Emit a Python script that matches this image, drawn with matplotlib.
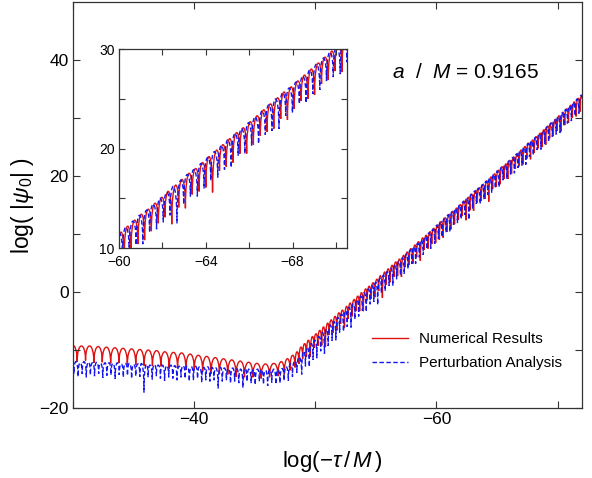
import matplotlib
matplotlib.use("Agg")
import matplotlib.pyplot as plt
from matplotlib.path import Path
from matplotlib.patches import PathPatch
from matplotlib.lines import Line2D

plt.rcParams['font.family'] = 'Liberation Sans'
plt.rcParams['mathtext.fontset'] = 'custom'
plt.rcParams['mathtext.rm'] = 'Liberation Sans'
plt.rcParams['mathtext.it'] = 'Liberation Sans:italic'

# ---- data ----
# each curve = chain of arches: cusp positions, arch tops between cusps,
# and how far the spike at each cusp drops below the lower neighbouring arch

red_cusp_x = [
    -29.67, -30.36, -31.05, -31.74, -32.43, -33.12, -33.81, -34.50, -35.19, -35.88,
    -36.57, -37.26, -37.95, -38.64, -39.33, -40.02, -40.71, -41.40, -42.09, -42.78,
    -43.47, -44.16, -44.85, -45.54, -46.23, -46.92,
    -47.45, -47.92, -48.33,
    -48.65, -48.96, -49.27, -49.59, -49.90, -50.21, -50.53, -50.84, -51.15, -51.47,
    -51.78, -52.09, -52.41, -52.72, -53.03, -53.35, -53.66, -53.97, -54.29, -54.60,
    -54.91, -55.23, -55.54, -55.85, -56.17, -56.48, -56.79, -57.11, -57.42, -57.73,
    -58.05, -58.36, -58.67, -58.99, -59.30, -59.61, -59.93, -60.24, -60.55, -60.87,
    -61.18, -61.49, -61.81, -62.12, -62.43, -62.75, -63.06, -63.37, -63.69, -64.00,
    -64.31, -64.63, -64.94, -65.25, -65.57, -65.88, -66.19, -66.51, -66.82, -67.13,
    -67.45, -67.76, -68.07, -68.39, -68.70, -69.01, -69.33, -69.64, -69.95, -70.27,
    -70.58, -70.89, -71.21, -71.52, -71.83, -72.15,
]
red_top = [
    -9.2, -9.3, -9.3, -9.4, -9.5, -9.6, -9.7, -9.8, -9.9, -10.0,
    -10.1, -10.3, -10.4, -10.5, -10.7, -10.9, -11.1, -11.3, -11.5, -11.7,
    -11.9, -12.1, -12.3, -12.4, -12.3,
    -12.0, -11.5, -10.9, -10.3,
    -9.5, -8.9, -8.3, -7.7, -7.2, -6.6, -6.0, -5.4, -4.8, -4.2,
    -3.6, -3.1, -2.5, -1.9, -1.3, -0.7, -0.1, 0.5, 1.0, 1.6,
    2.2, 2.8, 3.4, 4.0, 4.6, 5.2, 5.7, 6.3, 6.9, 7.5,
    8.1, 8.7, 9.3, 9.8, 10.4, 11.0, 11.6, 12.2, 12.8, 13.4,
    13.9, 14.5, 15.1, 15.7, 16.3, 16.9, 17.5, 18.0, 18.6, 19.2,
    19.8, 20.4, 21.0, 21.6, 22.1, 22.7, 23.3, 23.9, 24.5, 25.1,
    25.7, 26.2, 26.8, 27.4, 28.0, 28.6, 29.2, 29.8, 30.4, 31.0,
    31.6, 32.2, 32.8, 33.4, 34.0,
]
red_dip_depth = [
    2.6, 2.7, 2.5, 2.8, 2.6, 2.7, 2.5, 2.8, 2.6, 2.7,
    2.6, 2.5, 2.8, 2.6, 2.7, 2.5, 2.6, 2.8, 2.6, 2.5,
    2.7, 2.6, 2.4, 2.5, 2.3, 2.2,
    2.2, 2.0, 2.1,
    2.1, 2.0, 2.3, 2.9, 1.9, 2.1, 2.6, 3.4, 2.0, 2.2,
    2.4, 1.9, 3.0, 2.1, 2.3, 2.0, 2.6, 3.2, 1.9, 2.2,
    2.5, 2.0, 3.8, 2.1, 2.3, 2.0, 2.4, 3.1, 2.0, 2.2,
    2.6, 2.1, 3.3, 2.0, 2.3, 2.1, 2.5, 2.6, 2.8, 2.4,
    2.6, 2.2, 2.0, 2.0, 3.3, 2.2, 2.9, 2.1, 2.3, 2.5,
    3.6, 2.0, 2.2, 2.4, 2.1, 2.6, 2.3, 2.0, 2.2, 2.5,
    2.1, 2.8, 2.2, 2.0, 2.4, 2.6, 2.1, 2.3, 2.0, 2.7,
    2.2, 2.4, 2.1, 2.5, 2.3, 2.4,
]

blue_cusp_x = [
    -29.75, -30.09, -30.43, -30.77, -31.11, -31.45, -31.79, -32.13, -32.47, -32.81,
    -33.15, -33.49, -33.83, -34.17, -34.51, -34.85, -35.19, -35.53, -35.87, -36.21,
    -36.55, -36.89, -37.23, -37.57, -37.91, -38.25, -38.59, -38.93, -39.27, -39.61,
    -39.95, -40.29, -40.63, -40.97, -41.31, -41.65, -41.99, -42.33, -42.67, -43.01,
    -43.35, -43.69, -44.03, -44.37, -44.71, -45.05, -45.39, -45.73, -46.07, -46.41,
    -46.75, -47.09, -47.43, -47.78, -48.12, -48.48,
    -48.88, -49.19, -49.51, -49.82, -50.13, -50.45, -50.76, -51.07, -51.39, -51.70,
    -52.01, -52.33, -52.64, -52.95, -53.27, -53.58, -53.89, -54.21, -54.52, -54.83,
    -55.15, -55.46, -55.77, -56.09, -56.40, -56.71, -57.03, -57.34, -57.65, -57.97,
    -58.28, -58.59, -58.91, -59.22, -59.53, -59.85, -60.16, -60.47, -60.79, -61.10,
    -61.41, -61.73, -62.04, -62.35, -62.67, -62.98, -63.29, -63.61, -63.92, -64.23,
    -64.55, -64.86, -65.17, -65.49, -65.80, -66.11, -66.43, -66.74, -67.05, -67.37,
    -67.68, -67.99, -68.31, -68.62, -68.93, -69.25, -69.56, -69.87, -70.19, -70.50,
    -70.81, -71.13, -71.44, -71.75, -72.07,
]
blue_top = [
    -12.1, -12.0, -12.2, -12.0, -12.1, -12.2, -12.1, -12.3, -12.2, -12.2,
    -12.3, -12.2, -12.4, -12.3, -12.3, -12.5, -12.4, -12.4, -12.5, -12.6,
    -12.5, -12.6, -12.6, -12.7, -12.6, -12.7, -12.8, -12.7, -12.8, -12.9,
    -12.8, -12.9, -13.0, -12.9, -13.0, -13.1, -13.0, -13.1, -13.2, -13.1,
    -13.2, -13.3, -13.2, -13.3, -13.4, -13.3, -13.4, -13.5, -13.4, -13.3,
    -13.4, -13.2, -12.9, -12.4, -11.9,
    -11.2,
    -10.2, -9.5, -8.9, -8.3, -7.7, -7.0, -6.4, -5.7, -5.1, -4.4,
    -3.8, -3.2, -2.6, -2.0, -1.3, -0.7, -0.1, 0.5, 1.1, 1.7,
    2.3, 2.9, 3.5, 4.1, 4.8, 5.3, 5.9, 6.5, 7.2, 7.8,
    8.4, 9.0, 9.6, 10.2, 10.8, 11.5, 12.1, 12.7, 13.3, 13.8,
    14.4, 15.0, 15.6, 16.2, 16.8, 17.4, 17.9, 18.5, 19.1, 19.7,
    20.3, 20.9, 21.5, 22.0, 22.6, 23.2, 23.8, 24.4, 25.0, 25.6,
    26.1, 26.7, 27.3, 27.9, 28.5, 29.1, 29.7, 30.3, 30.9, 31.5,
    32.1, 32.7, 33.3, 33.9,
]
blue_dip_depth = [
    2.2, 2.0, 2.4, 1.9, 2.6, 2.1, 2.3, 1.8, 2.5, 2.2,
    2.0, 2.7, 1.9, 2.3, 2.1, 2.4, 2.0, 2.2, 4.8, 2.1,
    2.5, 1.9, 2.3, 2.6, 2.0, 2.2, 2.4, 1.9, 2.1, 2.5,
    2.3, 2.0, 2.6, 2.2, 2.4, 2.1, 3.5, 2.3, 2.0, 2.5,
    2.2, 2.4, 3.2, 2.1, 2.3, 2.6, 2.0, 2.4, 2.7, 2.2,
    2.5, 2.3, 2.1, 2.4, 2.2, 2.0,
    3.0, 2.6, 3.4, 2.8, 3.1, 2.5, 3.6, 2.9, 2.7, 3.2,
    2.6, 3.0, 2.8, 3.5, 2.7, 2.9, 2.5, 3.3, 2.6, 2.8,
    3.9, 2.5, 2.7, 2.4, 3.0, 2.6, 2.4, 2.8, 2.5, 2.3,
    2.9, 2.4, 2.6, 2.2, 2.7, 2.5, 2.3, 2.6, 2.4, 2.9,
    2.2, 2.5, 2.4, 2.3, 3.7, 2.4, 2.2, 2.7, 2.5, 2.3,
    2.6, 2.4, 2.8, 2.2, 2.5, 2.3, 2.7, 2.4, 2.6, 3.0,
    2.3, 2.5, 2.2, 2.7, 2.4, 2.6, 2.3, 2.5, 2.8, 2.2,
    2.4, 2.6, 2.3, 2.5, 2.4,
]

RED = '#dd1111'
BLUE = '#1515f0'


def arch_path(cusp_x, top, depth):
    # spike bottom at every cusp, then one cubic arch per lobe
    dips = []
    for k in range(len(cusp_x)):
        near = [top[j] for j in (k - 1, k) if 0 <= j < len(top)]
        dips.append(min(near) - depth[k])
    verts = [(cusp_x[0], dips[0])]
    codes = [Path.MOVETO]
    for i, t in enumerate(top):
        xa, xb = cusp_x[i], cusp_x[i + 1]
        c = (t - 0.125 * (dips[i] + dips[i + 1])) / 0.75
        verts += [(xa, c), (xb, c), (xb, dips[i + 1])]
        codes += [Path.CURVE4] * 3
    return Path(verts, codes)


red_path = arch_path(red_cusp_x, red_top, red_dip_depth)
blue_path = arch_path(blue_cusp_x, blue_top, blue_dip_depth)


def draw_curves(ax, lw):
    ax.add_patch(PathPatch(red_path, fill=False, edgecolor=RED, lw=lw))
    ax.add_patch(PathPatch(blue_path, fill=False, edgecolor=BLUE, lw=lw,
                           linestyle=(0, (3.2, 1.8))))


def style_axes(ax, size, tick_len):
    for s in ax.spines.values():
        s.set_color('#333333')
        s.set_linewidth(0.9)
    ax.tick_params(which='both', direction='in', top=True, right=True,
                   length=tick_len, width=0.8, color='#333333', labelsize=size, pad=3)


fig = plt.figure(figsize=(5.92, 4.78), dpi=100)

ax = fig.add_axes([0.123, 0.1464, 0.860, 0.849])
draw_curves(ax, 1.0)
ax.set_xlim(-30, -72)
ax.set_ylim(-20, 50)
ax.set_xticks([-40, -60])
ax.set_xticks([-30, -50, -70], minor=True)
ax.set_yticks([-20, 0, 20, 40])
ax.set_yticks([-10, 10, 30], minor=True)
style_axes(ax, 12.5, 5)
ax.set_xlabel(r'log($-\tau\,/\,M\,$)', fontsize=16)
ax.xaxis.set_label_coords(0.51, -0.1)
ax.set_ylabel(r'log( $|\psi_0|$ )', fontsize=16.5)
ax.yaxis.set_label_coords(-0.072, 0.5)

ax.text(0.627, 0.826, r'$a$  /  $M$ = 0.9165', transform=ax.transAxes,
        fontsize=15, ha='left', va='center')

handles = [Line2D([], [], color=RED, lw=1.0),
           Line2D([], [], color=BLUE, lw=1.0, linestyle=(0, (3.2, 1.8)))]
ax.legend(handles, ['Numerical Results', 'Perturbation Analysis'],
          loc='center left', bbox_to_anchor=(0.56, 0.14), frameon=False,
          fontsize=11, handlelength=2.4, handletextpad=0.72, labelspacing=0.62)

axin = fig.add_axes([0.201, 0.481, 0.385, 0.416])
draw_curves(axin, 1.0)
axin.set_xlim(-60, -70.5)
axin.set_ylim(10, 30)
axin.set_xticks([-60, -64, -68])
axin.set_xticks([-62, -66, -70], minor=True)
axin.set_yticks([10, 20, 30])
axin.set_yticks([15, 25], minor=True)
style_axes(axin, 10, 4)
axin.tick_params(axis='x', pad=5)

fig.savefig('out.png', dpi=100)
